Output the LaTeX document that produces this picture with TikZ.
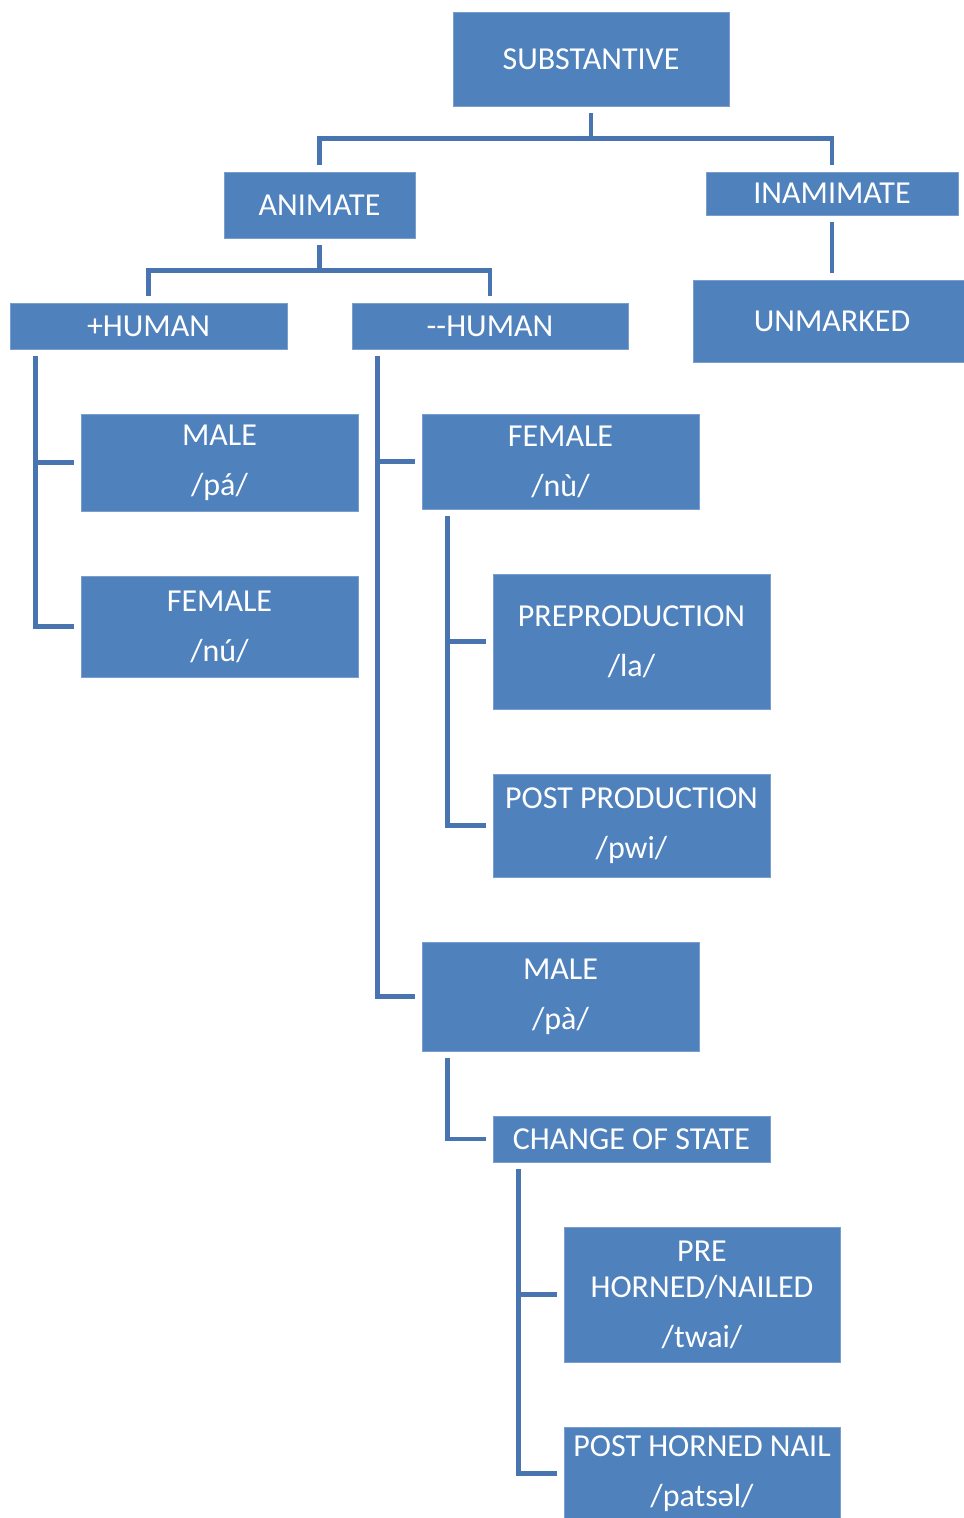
\documentclass[tikz,border=0pt]{standalone}
\usepackage{fontspec}
\setmainfont{Carlito}
\begin{document}
\begin{tikzpicture}[x=0.75pt,y=-0.75pt,
  box/.style 2 args={rectangle, fill=boxblue, draw=boxedge, line width=0.6pt,
    minimum width=#1*0.75pt, minimum height=#2*0.75pt, inner sep=0pt,
    text=white, align=center, font=\fontsize{24}{27}\selectfont},
  conn/.style={draw=lineblue, line width=3.7pt, line join=miter,
    shorten <=4.8pt, shorten >=4.8pt}]
\definecolor{boxblue}{HTML}{4F81BD}
\definecolor{boxedge}{HTML}{7A9FCE}
\definecolor{lineblue}{HTML}{4874B0}
\useasboundingbox (0,0) rectangle (964,1518);

\node[box={276}{94}] (subst) at (591,59) {SUBSTANTIVE};
\node[box={191}{66}] (anim) at (319.5,205) {ANIMATE};
\node[box={252}{43}] (inan) at (832,193.5) {INAMIMATE};
\node[box={278}{82}] (unm) at (832,321) {UNMARKED};
\node[box={277}{46}] (phum) at (148.5,326) {+HUMAN};
\node[box={276}{46}] (mhum) at (490,326) {-{}-HUMAN};
\node[box={277}{97}] (male1) at (219.5,462.5) {MALE\\[10.5pt]/pá/};
\node[box={277}{101}] (fem1) at (219.5,626.5) {FEMALE\\[10.5pt]/nú/};
\node[box={277}{95}] (fem2) at (560.5,461.5) {FEMALE\\[10.5pt]/nù/};
\node[box={277}{135}] (prepro) at (631.5,641.5) {PREPRODUCTION\\[10.5pt]/la/};
\node[box={277}{103}] (postpro) at (631.5,825.5) {POST PRODUCTION\\[10.5pt]/pwi/};
\node[box={277}{109}] (male2) at (560.5,996.5) {MALE\\[10.5pt]/pà/};
\node[box={277}{46}] (cos) at (631.5,1139) {CHANGE OF STATE};
\node[box={276}{135}] (pre) at (702,1294.5) {PRE\\HORNED/NAILED\\[10.5pt]/twai/};
\node[box={276}{93}] (post) at (702,1473.5) {POST HORNED NAIL\\[10.5pt]/patsəl/};

\draw[conn] (subst.south) -- ++(0,32) -| (anim.north);
\draw[conn] (subst.south) -- ++(0,32) -| (inan.north);
\draw[conn] (anim.south) -- ++(0,32) -| (phum.north);
\draw[conn] (anim.south) -- ++(0,32) -| (mhum.north);
\draw[conn] (inan.south) -- (inan.south |- unm.north);

\draw[conn] ([xshift=26*0.75pt]phum.south west) |- (male1.west);
\draw[conn] ([xshift=26*0.75pt]phum.south west) |- (fem1.west);
\draw[conn] ([xshift=26*0.75pt]mhum.south west) |- (fem2.west);
\draw[conn] ([xshift=26*0.75pt]mhum.south west) |- (male2.west);
\draw[conn] ([xshift=26*0.75pt]fem2.south west) |- (prepro.west);
\draw[conn] ([xshift=26*0.75pt]fem2.south west) |- (postpro.west);
\draw[conn] ([xshift=26*0.75pt]male2.south west) |- (cos.west);
\draw[conn] ([xshift=26*0.75pt]cos.south west) |- (pre.west);
\draw[conn] ([xshift=26*0.75pt]cos.south west) |- (post.west);
\end{tikzpicture}
\end{document}
